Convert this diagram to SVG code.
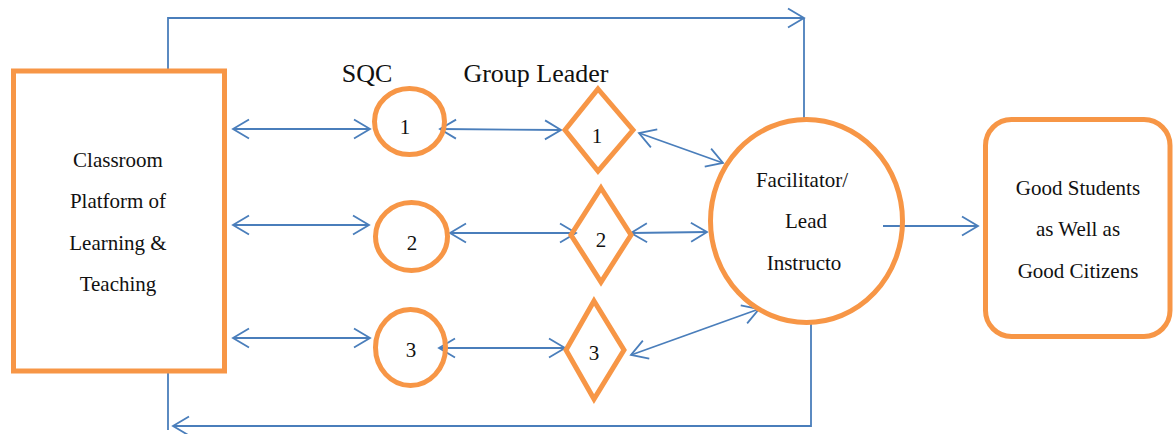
<svg xmlns="http://www.w3.org/2000/svg" width="1173" height="434" viewBox="0 0 1173 434" font-family="Liberation Serif, Times New Roman, serif">
<style>
.n{fill:none;stroke:#F79646;stroke-width:5}
.c{fill:none;stroke:#4A7EBB;stroke-width:1.8}
text{fill:#111;text-anchor:middle}
.b{font-size:21px}
.h{font-size:26px}
</style>
<defs>
<marker id="a" viewBox="-19 -11 21 22" markerWidth="21" markerHeight="22" refX="0" refY="0" orient="auto-start-reverse" markerUnits="userSpaceOnUse" overflow="visible">
<path d="M-16,-9.5 L0,0 L-16,9.5" fill="none" stroke="#4A7EBB" stroke-width="1.8"/>
</marker>
</defs>
<rect width="1173" height="434" fill="#fff"/>
<g id="connectors">
<path class="c" d="M168,70 V18 H804" marker-end="url(#a)"/>
<path class="c" d="M804,18 V118"/>
<path class="c" d="M168,371 V430"/>
<path class="c" d="M811,324 V426 H173" marker-end="url(#a)"/>
<path class="c" d="M233,129 H370" marker-start="url(#a)" marker-end="url(#a)"/>
<path class="c" d="M440,129 L561,130" marker-start="url(#a)" marker-end="url(#a)"/>
<path class="c" d="M639,133 L723,163" marker-start="url(#a)" marker-end="url(#a)"/>
<path class="c" d="M233,225 H369" marker-start="url(#a)" marker-end="url(#a)"/>
<path class="c" d="M450,233 L576,233" marker-start="url(#a)" marker-end="url(#a)"/>
<path class="c" d="M631,233 L707,232" marker-start="url(#a)" marker-end="url(#a)"/>
<path class="c" d="M233,338 H370" marker-start="url(#a)" marker-end="url(#a)"/>
<path class="c" d="M439,348 L565,348" marker-start="url(#a)" marker-end="url(#a)"/>
<path class="c" d="M631,355 L759,309" marker-start="url(#a)" marker-end="url(#a)"/>
<path class="c" d="M883,226 H978" marker-end="url(#a)"/>
</g>
<g id="classroom">
<rect class="n" x="13.5" y="71" width="211" height="300"/>
<text class="b" x="118" y="167">Classroom</text>
<text class="b" x="118" y="208">Platform of</text>
<text class="b" x="118" y="250">Learning &amp;</text>
<text class="b" x="118" y="291">Teaching</text>
</g>
<g id="labels">
<text class="h" x="367" y="82">SQC</text>
<text class="h" x="536" y="82">Group Leader</text>
</g>
<g id="sqc1">
<ellipse class="n" cx="409.5" cy="121.5" rx="35" ry="33"/>
<text class="b" x="405" y="134">1</text>
</g>
<g id="sqc2">
<ellipse class="n" cx="411.5" cy="236.5" rx="36" ry="34"/>
<text class="b" x="412" y="250">2</text>
</g>
<g id="sqc3">
<ellipse class="n" cx="410.5" cy="347.5" rx="35" ry="38"/>
<text class="b" x="411" y="357">3</text>
</g>
<g id="leader1">
<polygon class="n" points="598,89 633,130 598,171 565,130"/>
<text class="b" x="597" y="143">1</text>
</g>
<g id="leader2">
<polygon class="n" points="601,188 631,235 601,282 571,235"/>
<text class="b" x="601" y="247">2</text>
</g>
<g id="leader3">
<polygon class="n" points="594,301 624,350 594,399 566,350"/>
<text class="b" x="594" y="360">3</text>
</g>
<g id="facilitator">
<ellipse class="n" cx="806.5" cy="221" rx="96" ry="101.5"/>
<text class="b" x="802" y="187">Facilitator/</text>
<text class="b" x="806" y="228">Lead</text>
<text class="b" x="804" y="270">Instructo</text>
</g>
<g id="outcome">
<rect class="n" x="985.5" y="119.5" width="184.5" height="217" rx="26" ry="26"/>
<text class="b" x="1078" y="195">Good Students</text>
<text class="b" x="1078" y="236">as Well as</text>
<text class="b" x="1078" y="278">Good Citizens</text>
</g>
</svg>
